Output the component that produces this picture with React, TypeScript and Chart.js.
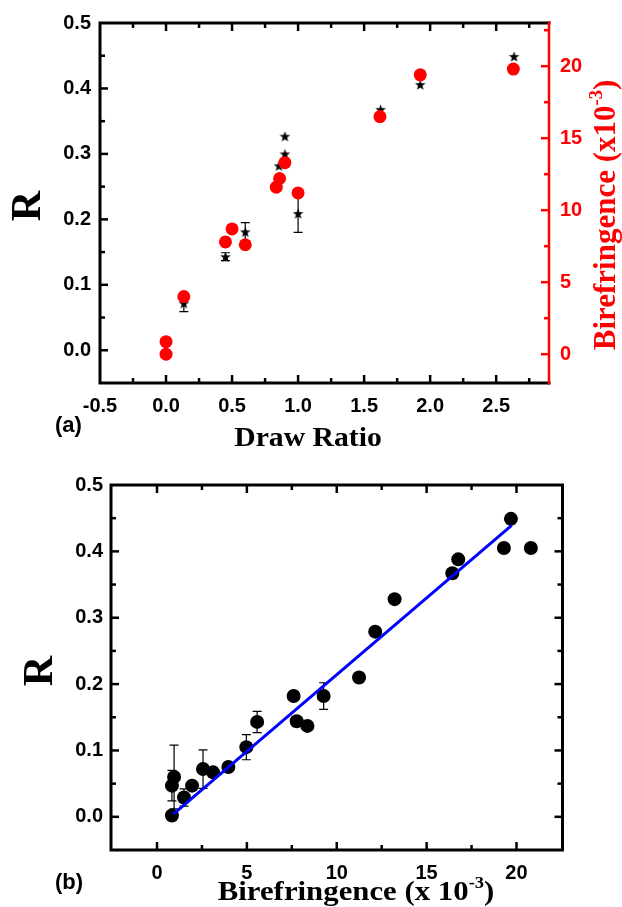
import React, { useEffect, useRef } from "react";
import { Chart, registerables } from "chart.js";
Chart.register(...registerables);

// ---------------- Panel (a): R and birefringence vs draw ratio ----------------
const starDrawRatio = [0.135, 0.45, 0.6, 0.855, 0.9, 0.9, 1.0, 1.625, 1.925, 2.635];
const starR = [0.072, 0.143, 0.181, 0.282, 0.3, 0.327, 0.209, 0.368, 0.406, 0.449];
const starRErr = [0.013, 0.006, 0.014, 0, 0, 0, 0.029, 0, 0, 0];

const circleDrawRatio = [0, 0, 0.135, 0.45, 0.5, 0.6, 0.835, 0.86, 0.9, 1.0, 1.62, 1.925, 2.63];
const circleBiref = [0.0, 0.87, 4.0, 7.8, 8.7, 7.6, 11.6, 12.2, 13.3, 11.2, 16.5, 19.4, 19.8];

const drawRatioTicks = [-0.5, 0, 0.5, 1, 1.5, 2, 2.5];
const rTicks = [0, 0.1, 0.2, 0.3, 0.4, 0.5];
const birefTicksA = [0, 5, 10, 15, 20];

// ---------------- Panel (b): R vs birefringence ----------------
const bBiref = [0.83, 0.83, 0.95, 1.5, 1.95, 2.56, 3.12, 3.97, 4.97, 5.57, 7.6, 7.77, 8.37, 9.27, 11.24, 12.14, 13.22, 16.43, 16.76, 19.3, 19.69, 20.8];
const bR = [0.002, 0.047, 0.06, 0.029, 0.047, 0.072, 0.067, 0.075, 0.105, 0.143, 0.182, 0.144, 0.137, 0.182, 0.21, 0.279, 0.328, 0.367, 0.388, 0.405, 0.449, 0.405];
const bRErr = [0, 0.023, 0.048, 0.013, 0, 0.029, 0, 0, 0.019, 0.016, 0, 0, 0, 0.02, 0, 0, 0, 0, 0, 0, 0, 0];
const fitBiref = [0.91, 19.73];
const fitR = [0.004, 0.439];
const birefTicksB = [0, 5, 10, 15, 20];

// ---------------- helpers ----------------
const W = 622;
const TOP_H = 455;
const BOT_H = 452;
const RED = "#ff0000";
const TICK_FONT = { family: "'Liberation Sans', Arial, sans-serif", size: 20, weight: "bold" as const };

function makeStar(): HTMLCanvasElement {
  const c = document.createElement("canvas");
  const size = 13;
  c.width = size;
  c.height = size;
  const g = c.getContext("2d")!;
  const cx = size / 2, cy = size / 2 + 0.6, R = 5.6, r = 2.3;
  g.beginPath();
  for (let i = 0; i < 10; i++) {
    const a = -Math.PI / 2 + (i * Math.PI) / 5;
    const rad = i % 2 === 0 ? R : r;
    g.lineTo(cx + rad * Math.cos(a), cy + rad * Math.sin(a));
  }
  g.closePath();
  g.fillStyle = "#000";
  g.fill();
  return c;
}

const framePlugin = {
  id: "frame",
  afterDraw(chart: any, _a: any, opts: any) {
    const { ctx, chartArea: a } = chart;
    ctx.save();
    for (const ax of opts.axes) {
      const s = chart.scales[ax.scaleId];
      const n0 = Math.ceil(s.min / ax.minor - 1e-6);
      const n1 = Math.floor(s.max / ax.minor + 1e-6);
      ctx.strokeStyle = ax.color;
      ctx.lineWidth = 2.5;
      ctx.lineCap = "butt";
      for (let n = n0; n <= n1; n++) {
        const v = n * ax.minor;
        const p = s.getPixelForValue(v);
        const horiz = ax.side === "top" || ax.side === "bottom";
        const lo = horiz ? a.left : a.top;
        const hi = horiz ? a.right : a.bottom;
        if (p < lo + 3 || p > hi - 3) continue;
        const q = v / ax.major;
        const major = Math.abs(q - Math.round(q)) < 1e-6;
        const len = major ? 8 : 5;
        ctx.beginPath();
        if (ax.side === "bottom") { ctx.moveTo(p, a.bottom); ctx.lineTo(p, a.bottom - len); }
        else if (ax.side === "top") { ctx.moveTo(p, a.top); ctx.lineTo(p, a.top + len); }
        else if (ax.side === "left") { ctx.moveTo(a.left, p); ctx.lineTo(a.left + len, p); }
        else { ctx.moveTo(a.right, p); ctx.lineTo(a.right - len, p); }
        ctx.stroke();
      }
    }
    ctx.lineCap = "square";
    ctx.strokeStyle = "#000";
    ctx.lineWidth = 3;
    ctx.beginPath();
    ctx.moveTo(a.right, a.top);
    ctx.lineTo(a.left, a.top);
    ctx.lineTo(a.left, a.bottom);
    ctx.lineTo(a.right, a.bottom);
    if (!opts.rightColor) ctx.lineTo(a.right, a.top);
    ctx.stroke();
    if (opts.rightColor) {
      ctx.strokeStyle = opts.rightColor;
      ctx.lineWidth = 2.5;
      ctx.lineCap = "butt";
      ctx.beginPath();
      ctx.moveTo(a.right, a.top - 2);
      ctx.lineTo(a.right, a.bottom + 1.5);
      ctx.stroke();
    }
    for (const t of opts.titles) {
      ctx.save();
      ctx.translate(t.x, t.y);
      if (t.rotate) ctx.rotate(t.rotate);
      ctx.scale(t.scaleX || 1, 1);
      ctx.fillStyle = t.color;
      ctx.textBaseline = t.baseline || "alphabetic";
      ctx.textAlign = "left";
      const fontOf = (k: number) => `bold ${Math.round(t.size * k * 10) / 10}px ${t.family}`;
      let total = 0;
      for (const p of t.parts) { ctx.font = fontOf(p.k || 1); total += ctx.measureText(p.text).width; }
      let cx = t.align === "left" ? 0 : -total / 2;
      for (const p of t.parts) {
        ctx.font = fontOf(p.k || 1);
        ctx.fillText(p.text, cx, (p.dy || 0) * t.size);
        cx += ctx.measureText(p.text).width;
      }
      ctx.restore();
    }
    ctx.restore();
  },
};

const errorBarPlugin = {
  id: "errbars",
  beforeDatasetsDraw(chart: any, _a: any, opts: any) {
    const { ctx } = chart;
    ctx.save();
    ctx.strokeStyle = "#000";
    ctx.lineWidth = 1.2;
    for (const set of opts.sets) {
      const xs = chart.scales[set.xScale];
      const ys = chart.scales[set.yScale];
      set.x.forEach((xv: number, i: number) => {
        const e = set.err[i];
        if (!e) return;
        const px = xs.getPixelForValue(xv);
        const y1 = ys.getPixelForValue(set.y[i] + e);
        const y2 = ys.getPixelForValue(set.y[i] - e);
        ctx.beginPath();
        ctx.moveTo(px, y1); ctx.lineTo(px, y2);
        ctx.moveTo(px - 4.5, y1); ctx.lineTo(px + 4.5, y1);
        ctx.moveTo(px - 4.5, y2); ctx.lineTo(px + 4.5, y2);
        ctx.stroke();
      });
    }
    ctx.restore();
  },
};

function setTicks(arr: number[]) {
  return (s: any) => { s.ticks = arr.map((value) => ({ value })); };
}

const hiddenGrid = { display: false, drawTicks: false };
const SERIF = "'Liberation Serif', 'Times New Roman', serif";
const SANS = "'Liberation Sans', Arial, sans-serif";

export default function App() {
  const topRef = useRef<HTMLCanvasElement>(null);
  const botRef = useRef<HTMLCanvasElement>(null);

  useEffect(() => {
    const star = makeStar();
    const top = new Chart(topRef.current!, {
      type: "scatter",
      data: {
        datasets: [
          {
            label: "Birefringence",
            data: circleDrawRatio.map((x, i) => ({ x, y: circleBiref[i] })),
            yAxisID: "y2",
            pointStyle: "circle",
            pointRadius: 6.5,
            backgroundColor: RED,
            borderColor: RED,
            borderWidth: 0,
            order: 0,
          },
          {
            label: "R",
            data: starDrawRatio.map((x, i) => ({ x, y: starR[i] })),
            yAxisID: "y",
            pointStyle: star as any,
            pointRadius: 6,
            backgroundColor: "#000",
            borderColor: "#000",
            order: 1,
          },
        ],
      },
      options: {
        responsive: false,
        animation: false,
        devicePixelRatio: 1,
        events: [],
        layout: { padding: { top: 22, left: 0, right: 0, bottom: 0 } },
        plugins: {
          legend: { display: false },
          tooltip: { enabled: false },
          frame: {
            rightColor: RED,
            axes: [
              { scaleId: "x", side: "bottom", major: 0.5, minor: 0.25, color: "#000" },
              { scaleId: "x", side: "top", major: 0.5, minor: 0.25, color: "#000" },
              { scaleId: "y", side: "left", major: 0.1, minor: 0.05, color: "#000" },
              { scaleId: "y2", side: "right", major: 5, minor: 2.5, color: RED },
            ],
            titles: [
              { parts: [{ text: "R" }], x: 40, y: 206, rotate: -Math.PI / 2, size: 42, family: SERIF, color: "#000" },
              {
                parts: [{ text: "Birefringence (x10" }, { text: "-3", k: 0.6, dy: -0.42 }, { text: ")" }],
                x: 615, y: 215, rotate: -Math.PI / 2, size: 31, family: SERIF, color: RED,
              },
              { parts: [{ text: "Draw Ratio" }], x: 308, y: 446, size: 27, scaleX: 1.1, family: SERIF, color: "#000" },
              { parts: [{ text: "(a)" }], x: 55, y: 426, size: 22, family: SANS, color: "#000", align: "left", baseline: "middle" },
            ],
          },
          errbars: { sets: [{ x: starDrawRatio, y: starR, err: starRErr, xScale: "x", yScale: "y" }] },
        } as any,
        scales: {
          x: {
            type: "linear",
            position: "bottom",
            min: -0.5,
            max: 2.9,
            afterBuildTicks: setTicks(drawRatioTicks),
            afterFit: (s: any) => { s.height = TOP_H - 383; },
            grid: hiddenGrid,
            border: { display: false },
            ticks: { font: TICK_FONT, color: "#000", padding: 11, autoSkip: false, maxRotation: 0, callback: (v: any) => Number(v).toFixed(1) },
          },
          y: {
            type: "linear",
            position: "left",
            min: -0.05,
            max: 0.5,
            afterBuildTicks: setTicks(rTicks),
            afterFit: (s: any) => { s.width = 100; },
            grid: hiddenGrid,
            border: { display: false },
            ticks: { font: TICK_FONT, color: "#000", padding: 9, autoSkip: false, callback: (v: any) => Number(v).toFixed(1) },
          },
          y2: {
            type: "linear",
            position: "right",
            min: -2,
            max: 23,
            afterBuildTicks: setTicks(birefTicksA),
            afterFit: (s: any) => { s.width = W - 549; },
            grid: hiddenGrid,
            border: { display: false },
            ticks: { font: TICK_FONT, color: RED, padding: 11, autoSkip: false, callback: (v: any) => String(v) },
          },
        },
      } as any,
      plugins: [framePlugin, errorBarPlugin] as any,
    });

    const bot = new Chart(botRef.current!, {
      type: "scatter",
      data: {
        datasets: [
          {
            label: "Linear fit",
            data: fitBiref.map((x, i) => ({ x, y: fitR[i] })),
            showLine: true,
            pointRadius: 0,
            borderColor: "#0000ff",
            borderWidth: 3,
            order: 0,
          },
          {
            label: "R",
            data: bBiref.map((x, i) => ({ x, y: bR[i] })),
            pointStyle: "circle",
            pointRadius: 7,
            backgroundColor: "#000",
            borderColor: "#000",
            borderWidth: 0,
            order: 1,
          },
        ],
      },
      options: {
        responsive: false,
        animation: false,
        devicePixelRatio: 1,
        events: [],
        layout: { padding: { top: 30, left: 0, right: W - 562.5, bottom: 0 } },
        plugins: {
          legend: { display: false },
          tooltip: { enabled: false },
          frame: {
            axes: [
              { scaleId: "x", side: "bottom", major: 5, minor: 2.5, color: "#000" },
              { scaleId: "x", side: "top", major: 5, minor: 2.5, color: "#000" },
              { scaleId: "y", side: "left", major: 0.1, minor: 0.05, color: "#000" },
              { scaleId: "y", side: "right", major: 0.1, minor: 0.05, color: "#000" },
            ],
            titles: [
              { parts: [{ text: "R" }], x: 52, y: 216, rotate: -Math.PI / 2, size: 42, family: SERIF, color: "#000" },
              {
                parts: [{ text: "Birefringence (x 10" }, { text: "-3", k: 0.6, dy: -0.42 }, { text: ")" }],
                x: 356, y: 445, size: 28, scaleX: 1.1, family: SERIF, color: "#000",
              },
              { parts: [{ text: "(b)" }], x: 55, y: 428, size: 22, family: SANS, color: "#000", align: "left", baseline: "middle" },
            ],
          },
          errbars: { sets: [{ x: bBiref, y: bR, err: bRErr, xScale: "x", yScale: "y" }] },
        } as any,
        scales: {
          x: {
            type: "linear",
            position: "bottom",
            min: -2.56,
            max: 22.56,
            afterBuildTicks: setTicks(birefTicksB),
            afterFit: (s: any) => { s.height = BOT_H - 395; },
            grid: hiddenGrid,
            border: { display: false },
            ticks: { font: TICK_FONT, color: "#000", padding: 11, autoSkip: false, maxRotation: 0, callback: (v: any) => String(v) },
          },
          y: {
            type: "linear",
            position: "left",
            min: -0.05,
            max: 0.5,
            afterBuildTicks: setTicks(rTicks),
            afterFit: (s: any) => { s.width = 111; },
            grid: hiddenGrid,
            border: { display: false },
            ticks: { font: TICK_FONT, color: "#000", padding: 8, autoSkip: false, callback: (v: any) => Number(v).toFixed(1) },
          },
        },
      } as any,
      plugins: [framePlugin, errorBarPlugin] as any,
    });

    return () => {
      top.destroy();
      bot.destroy();
    };
  }, []);

  return (
    <div style={{ position: "absolute", left: 0, top: 0, width: W, height: TOP_H + BOT_H, background: "#fff", overflow: "hidden" }}>
      <canvas ref={topRef} width={W} height={TOP_H} style={{ position: "absolute", left: 0, top: 0 }} />
      <canvas ref={botRef} width={W} height={BOT_H} style={{ position: "absolute", left: 0, top: TOP_H }} />
    </div>
  );
}
